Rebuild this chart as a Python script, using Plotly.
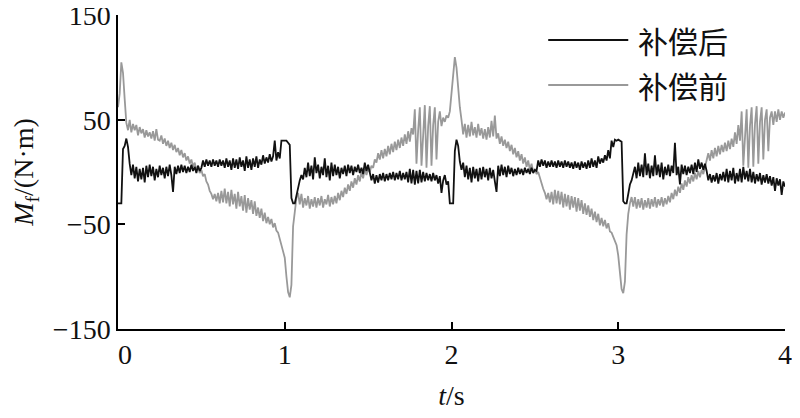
import numpy as np
import plotly.graph_objects as go

# sample times (s), 0.01 s sampling
t = np.round(np.arange(401) * 0.01, 2)

series_names = ["补偿后", "补偿前"]
x_ticks = [0, 1, 2, 3, 4]
x_tick_text = ["\u00a0\u00a00", "1", "2", "3", "4"]
y_ticks = [-150, -50, 50, 150]

# friction torque before compensation (N·m)
before = [
    62, 75, 105, 95, 70, 47, 40, 50, 38, 46,
    40, 45, 35, 43, 37, 41, 33, 40, 34, 38,
    32, 39, 30, 41, 31, 30, 35, 27, 32, 25,
    30, 23, 28, 21, 26, 19, 23, 16, 21, 14,
    18, 11, 15, 8, 12, 5, 9, 2, 6, -1,
    2, -4, -2, -9, -12, -18, -21, -26, -21, -28,
    -20, -30, -18, -29, -16, -30, -19, -33, -17, -31,
    -21, -35, -19, -33, -23, -37, -22, -39, -25, -36,
    -27, -40, -28, -42, -34, -44, -35, -47, -39, -49,
    -43, -50, -45, -53, -49, -56, -58, -63, -70, -76,
    -82, -100, -115, -120, -108, -52, -40, -25, -20, -31,
    -21, -34, -25, -32, -23, -35, -26, -33, -24, -34,
    -25, -32, -23, -34, -26, -31, -22, -33, -24, -31,
    -23, -30, -20, -27, -18, -24, -15, -21, -12, -18,
    -9, -15, -6, -12, -3, -9, 0, -6, 3, -3,
    3, 0, 6, 4, 12, 9, 18, 12, 21, 13,
    22, 15, 25, 17, 27, 19, 29, 21, 31, 23,
    33, 25, 36, 27, 39, 29, 42, 36, 60, 8,
    40, 62, 6, 42, 64, 4, 44, 63, 6, 45,
    62, 12, 48, 58, 44, 52, 48, 54, 52, 58,
    75, 90, 110, 100, 80, 62, 50, 36, 46, 33,
    45, 34, 48, 35, 43, 33, 46, 35, 42, 32,
    41, 31, 43, 33, 49, 34, 54, 32, 37, 27,
    34, 25, 31, 23, 29, 20, 26, 17, 23, 14,
    20, 11, 17, 8, 14, 5, 11, 2, 8, 0,
    3, -2, 0, -6, -10, -16, -20, -26, -20, -29,
    -19, -31, -17, -30, -18, -31, -19, -34, -21, -33,
    -22, -36, -23, -34, -24, -38, -25, -37, -27, -40,
    -30, -41, -32, -43, -35, -46, -38, -48, -40, -51,
    -44, -52, -46, -54, -49, -57, -58, -62, -65, -70,
    -80, -100, -112, -116, -105, -60, -40, -30, -24, -33,
    -24, -35, -26, -34, -25, -36, -27, -34, -25, -35,
    -26, -33, -24, -34, -26, -32, -24, -33, -25, -31,
    -23, -29, -20, -26, -17, -23, -14, -20, -11, -17,
    -8, -14, -5, -11, -3, -9, -1, -7, 1, -5,
    2, -2, 5, 14, 18, 11, 21, 13, 23, 15,
    25, 17, 26, 19, 28, 20, 30, 22, 32, 24,
    38, 27, 45, 30, 58, 6, 40, 60, 4, 44,
    62, 5, 46, 63, 8, 48, 62, 12, 50, 60,
    20, 52, 58, 45, 58, 48, 60, 50, 58, 52,
    57,
]

# friction torque after compensation (N·m)
after = [
    -30, -30, -30, 22, 25, 32, 24, 8, -3, 7,
    -6, 5, -9, 3, -7, 4, -10, 6, -5, 7,
    -4, 5, -8, 3, -5, 6, -3, 4, -6, 5,
    -4, 7, -3, -19, 5, -2, 6, -1, 7, 0,
    6, -1, 5, 0, 7, 1, 5, -1, 6, 1,
    4, 11, 5, 12, 6, 11, 5, 12, 6, 11,
    5, 12, 6, 11, 4, 13, 5, 11, 2, 13,
    4, 12, 3, 14, 5, 11, 1, 15, 4, 12,
    2, 13, 5, 15, 4, 12, 7, 16, 8, 14,
    9, 17, 10, 15, 30, 11, 19, 13, 30, 30,
    30, 30, 28, 26, -25, -30, -30, -22, -14, -8,
    -3, -7, 4, -5, 9, -4, 6, -7, 14, -1,
    7, -6, 5, -3, 13, -5, 6, -8, 9, -4,
    7, -3, 5, -6, 4, -2, 6, -4, 7, -1,
    6, -3, 5, 0, 7, -1, 4, -2, 9, 1,
    7, 0, -8, -2, -11, -3, -10, -2, -8, -1,
    -9, -2, -8, -1, -7, 0, -8, -1, -7, 1,
    -8, -1, -7, 0, -10, 3, -11, 2, -12, 1,
    -11, 2, -10, 0, -9, -1, -8, -2, -9, -1,
    -8, -3, -11, -4, -20, -8, -3, -12, -9, -30,
    -30, -30, 20, 31, 25, 10, 2, 9, -5, 6,
    -7, 4, -10, 5, -6, 3, -9, 4, -7, 5,
    -5, 3, -8, 4, -6, 2, -9, -19, 6, -4,
    7, -3, 5, -5, 6, -2, 4, -4, 3, -3,
    4, -2, 3, -3, 4, -1, 3, -2, 4, -1,
    2, 1, 11, 5, 12, 6, 11, 4, 10, 5,
    11, 5, 10, 4, 11, 5, 10, 4, 11, 5,
    10, 4, 9, 3, 10, 4, 9, 2, 10, 4,
    9, 3, 11, 4, 13, 5, 11, 4, 15, 8,
    13, 9, 16, 11, 21, 13, 30, 24, 31, 30,
    31, 30, 29, -28, -30, -30, -22, -12, -8, -2,
    5, -6, 9, -4, 7, -5, 18, -3, 8, -6,
    6, -4, 16, -3, 7, -5, 9, -7, 5, -3,
    7, -4, 6, -1, 28, -3, 5, -12, 7, -2,
    6, -3, 5, -1, 7, -2, 9, 0, 12, 3,
    9, 2, 8, 1, -8, -2, -10, -3, -9, -1,
    -11, -2, -8, 0, -9, 3, -10, 1, -8, 4,
    -11, -1, -9, 3, -10, 5, -7, 1, -9, 3,
    -10, 0, -11, -2, -9, -1, -12, -3, -10, -2,
    -11, -4, -13, -5, -18, -6, -13, -7, -22, -9,
    -14,
]

BLACK = "#111111"
GRAY = "#999999"
SERIF = "Liberation Serif, Times New Roman, serif"
CJK = "Noto Sans CJK SC, sans-serif"

fig = go.Figure()
fig.add_trace(go.Scatter(x=t, y=before, mode="lines", name=series_names[1],
                         line=dict(color=GRAY, width=1.8), showlegend=False))
fig.add_trace(go.Scatter(x=t, y=after, mode="lines", name=series_names[0],
                         line=dict(color=BLACK, width=1.8), showlegend=False))

# custom legend (long sample lines like the reference)
legend_rows = [(series_names[0], BLACK, 0.920), (series_names[1], GRAY, 0.777)]
for name, col, yp in legend_rows:
    fig.add_shape(type="line", xref="paper", yref="paper", x0=0.645, x1=0.765,
                  y0=yp, y1=yp, line=dict(color=col, width=2))
    fig.add_annotation(xref="paper", yref="paper", x=0.777, y=yp, text=name,
                       showarrow=False, xanchor="left", yanchor="middle",
                       font=dict(family=CJK, size=30, color="#111"))

# page body has an 8 px default margin, margins below compensate for it
fig.update_layout(
    width=800, height=418,
    margin=dict(l=110, r=23, t=7, b=97),
    paper_bgcolor="white", plot_bgcolor="white",
    font=dict(family=SERIF, size=28, color="#111"),
    xaxis=dict(range=[0, 4], tickvals=x_ticks, ticktext=x_tick_text, automargin=False,
               ticklabeloverflow="allow",
               showline=True, linecolor="black", linewidth=1.5, ticks="inside",
               ticklen=7, tickwidth=1.5, tickcolor="black", showgrid=False, zeroline=False,
               title=dict(text="<i>t</i>/s", standoff=16, font=dict(family=SERIF, size=28))),
    yaxis=dict(range=[-150.3, 150.3], tickvals=y_ticks, automargin=False,
               ticklabeloverflow="allow",
               showline=True, linecolor="black", linewidth=1.5, ticks="inside",
               ticklen=7, tickwidth=1.5, tickcolor="black", showgrid=False, zeroline=False,
               title=dict(text="<i>M</i><sub>f</sub>/(N·m)", standoff=16,
                          font=dict(family=SERIF, size=28))),
)

fig.write_html("out.html")
